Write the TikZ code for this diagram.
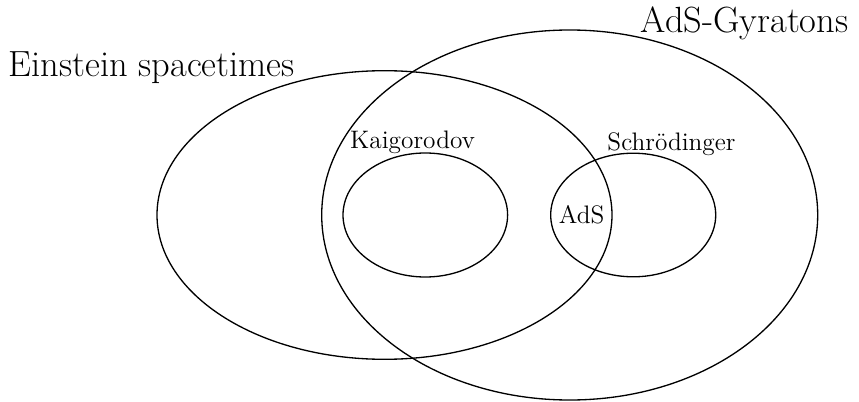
\documentclass[tikz,border=0pt]{standalone}
\begin{document}
\begin{tikzpicture}
  \tikzset{
    set line/.style={line width=0.75pt},
    big label/.style={anchor=base, inner sep=0pt, font=\huge},
    small label/.style={anchor=base, inner sep=0pt, font=\Large}
  }
  \useasboundingbox (0,0) rectangle (17.18,8.02);

  \coordinate (einstein-c) at (7.69,3.72);
  \coordinate (gyraton-c) at (11.394,3.72);
  \coordinate (kaigorodov-c) at (8.506,3.72);
  \coordinate (schroedinger-c) at (12.664,3.72);

  \draw [set line] (einstein-c) ellipse [x radius=4.55, y radius=2.886];
  \draw [set line] (gyraton-c) ellipse [x radius=4.96, y radius=3.70];
  \draw [set line] (kaigorodov-c) ellipse [x radius=1.646, y radius=1.24];
  \draw [set line] (schroedinger-c) ellipse [x radius=1.65, y radius=1.236];

  \node [big label] (einstein) at (3.034,6.48) {Einstein spacetimes};
  \node [big label] (gyraton) at (14.89,7.36) {AdS-Gyratons};
  \node [small label] (kaigorodov) at (8.25,5.04) {Kaigorodov};
  \node [small label] (schroedinger) at (13.43,5.02) {Schrödinger};
  \node [small label] (ads) at (11.634,3.554) {AdS};
\end{tikzpicture}
\end{document}
